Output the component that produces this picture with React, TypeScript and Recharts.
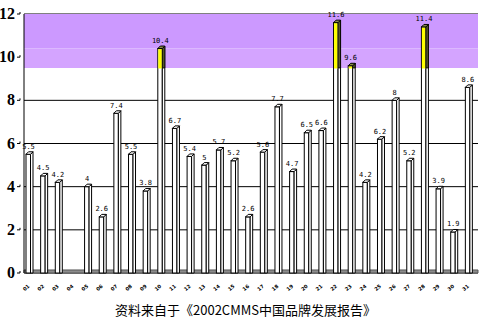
import * as React from "react";
import { BarChart, Bar, XAxis, YAxis, CartesianGrid, ReferenceArea, LabelList } from "recharts";

// categories are unreadable in the source (tiny rotated glyphs), so keep short ids
const brands = [
  "01", "02", "03", "04", "05", "06", "07", "08", "09", "10",
  "11", "12", "13", "14", "15", "16", "17", "18", "19", "20",
  "21", "22", "23", "24", "25", "26", "27", "28", "29", "30", "31",
];
const scores: (number | null)[] = [
  5.5, 4.5, 4.2, null, 4, 2.6, 7.4, 5.5, 3.8, 10.4,
  6.7, 5.4, 5, 5.7, 5.2, 2.6, 5.6, 7.7, 4.7, 6.5,
  6.6, 11.6, 9.6, 4.2, 6.2, 8, 5.2, 11.4, 3.9, 1.9, 8.6,
];
const yTicks = [0, 2, 4, 6, 8, 10, 12];
const bandLow = 9.5;
const bandMid = 10.4;

const data = brands.map((b, i) => ({ name: b, v: scores[i] }));

const FW = 4.5; // front face width
const D = 2.5; // depth of 3d side

function Bar3D(props: any) {
  const { x, y, width, height, value } = props;
  if (value == null || !height) return null;
  const cx = x + width / 2;
  const fx = cx - 5.5;
  const base = y + height;
  const per = height / value;
  const bandY = base - bandLow * per;
  const hot = value > bandLow;
  const sx = fx + FW;
  return (
    <g>
      <rect x={fx} y={y} width={FW} height={height} fill="#fff" stroke="#000" strokeWidth={1} />
      <polygon
        points={`${sx},${y} ${sx + D},${y - D} ${sx + D},${base} ${sx},${base}`}
        fill="#fff"
        stroke="#000"
        strokeWidth={1}
      />
      {hot && (
        <>
          <rect x={fx + 0.5} y={y + 0.5} width={FW - 1} height={bandY - y} fill="#ffff00" />
          <polygon
            points={`${sx},${y} ${sx + D},${y - D} ${sx + D},${bandY} ${sx},${bandY}`}
            fill="#55552a"
            stroke="#000"
            strokeWidth={0.8}
          />
        </>
      )}
      <polygon
        points={`${fx},${y} ${fx + D},${y - D} ${sx + D},${y - D} ${sx},${y}`}
        fill={hot ? "#8a8a4a" : "#fff"}
        stroke="#000"
        strokeWidth={1}
      />
    </g>
  );
}

function ValueLabel(props: any) {
  const { x, y, width, value } = props;
  if (value == null) return null;
  return (
    <text
      x={x + width / 2 - 3}
      y={y - D - 3}
      textAnchor="middle"
      fontSize={7}
      fontFamily="'DejaVu Sans Mono', monospace"
      fill="#000"
    >
      {String(value)}
    </text>
  );
}

function YTick(props: any) {
  const { x, y, payload } = props;
  return (
    <g>
      <path d={`M${x + 1},${y} L${x + 4},${y} L${x + 4},${y - 2}`} stroke="#000" fill="none" />
      <text
        x={x - 1}
        y={y + 5}
        textAnchor="end"
        fontSize={16}
        fontWeight="bold"
        fontFamily="'Liberation Serif', serif"
        fill="#000"
      >
        {payload.value}
      </text>
    </g>
  );
}

function XTick(props: any) {
  const { x, y, payload } = props;
  return (
    <text
      x={x - 4}
      y={y + 8}
      transform={`rotate(-40 ${x - 4} ${y + 8})`}
      textAnchor="middle"
      fontSize={5}
      fontWeight="bold"
      fontFamily="'DejaVu Sans', sans-serif"
      fill="#000"
    >
      {payload.value}
    </text>
  );
}

export default function App() {
  return (
    <div style={{ position: "absolute", left: 0, top: 0, width: 481, height: 323, background: "#fff" }}>
      <BarChart
        width={481}
        height={323}
        data={data}
        margin={{ top: 14, right: 3, left: 0, bottom: 0 }}
        barCategoryGap={2}
      >
        <ReferenceArea y1={bandMid} y2={12} fill="#cc99ff" fillOpacity={1} stroke="none" ifOverflow="visible" />
        <ReferenceArea y1={bandLow} y2={bandMid} fill="#d4a4ff" fillOpacity={1} stroke="none" ifOverflow="visible" />
        <CartesianGrid vertical={false} stroke="#000" strokeWidth={1} strokeOpacity={1} />
        <ReferenceArea y1={0} y2={0.14} fill="#8c8c8c" fillOpacity={1} stroke="#555" ifOverflow="visible" />
        <XAxis
          dataKey="name"
          height={50}
          axisLine={false}
          tickLine={false}
          interval={0}
          tick={<XTick />}
        />
        <YAxis
          width={24}
          domain={[0, 12]}
          ticks={yTicks}
          interval={0}
          axisLine={{ stroke: "#000" }}
          tickLine={false}
          tick={<YTick />}
        />
        <Bar dataKey="v" shape={<Bar3D />} isAnimationActive={false}>
          <LabelList dataKey="v" content={<ValueLabel />} />
        </Bar>
      </BarChart>
      <div
        style={{
          position: "absolute",
          left: 0,
          width: 491,
          top: 302,
          textAlign: "center",
          fontFamily: "'Noto Sans CJK SC', sans-serif",
          fontSize: 13,
          lineHeight: "15px",
          color: "#000",
        }}
      >
        资料来自于《2002CMMS中国品牌发展报告》
      </div>
    </div>
  );
}
